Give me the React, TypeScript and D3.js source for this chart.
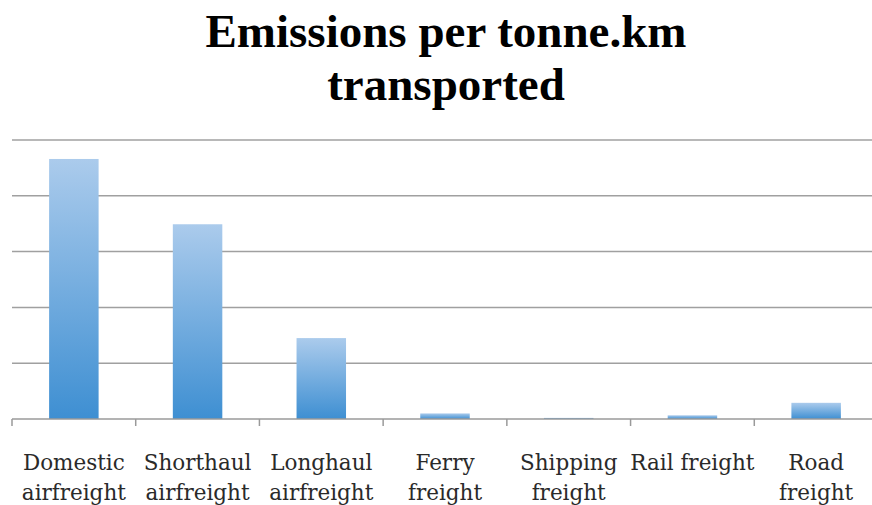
import * as d3 from "d3";
import { useLayoutEffect, useRef } from "react";

const categories = [
  "Domestic airfreight",
  "Shorthaul airfreight",
  "Longhaul airfreight",
  "Ferry freight",
  "Shipping freight",
  "Rail freight",
  "Road freight",
];
const tickLabels = [
  ["Domestic", "airfreight"],
  ["Shorthaul", "airfreight"],
  ["Longhaul", "airfreight"],
  ["Ferry", "freight"],
  ["Shipping", "freight"],
  ["Rail freight"],
  ["Road", "freight"],
];
const values = [2.33, 1.745, 0.725, 0.05, 0.01, 0.033, 0.145];
const gridTicks = [0.5, 1, 1.5, 2, 2.5];

const width = 872;
const height = 505;

export default function App() {
  const ref = useRef<SVGSVGElement>(null);

  useLayoutEffect(() => {
    const svg = d3.select(ref.current);
    svg.selectAll("*").remove();

    const x = d3.scaleBand<string>().domain(categories).range([12, 878]).paddingInner(0.6).paddingOuter(0.3);
    const y = d3.scaleLinear().domain([0, 2.5]).range([419, 140]);

    const defs = svg.append("defs");
    const grad = defs
      .append("linearGradient")
      .attr("id", "barGrad")
      .attr("x1", 0)
      .attr("y1", 0)
      .attr("x2", 0)
      .attr("y2", 1);
    grad.append("stop").attr("offset", "0%").attr("stop-color", "#abcbec");
    grad.append("stop").attr("offset", "100%").attr("stop-color", "#3e8fd2");

    svg
      .append("g")
      .selectAll("line")
      .data(gridTicks)
      .enter()
      .append("line")
      .attr("x1", 12)
      .attr("x2", width)
      .attr("y1", (d) => y(d))
      .attr("y2", (d) => y(d))
      .attr("stroke", "#a0a0a0")
      .attr("stroke-width", 1.5);

    svg
      .append("g")
      .selectAll("rect")
      .data(values)
      .enter()
      .append("rect")
      .attr("x", (_, i) => x(categories[i])!)
      .attr("width", x.bandwidth())
      .attr("y", (d) => y(d))
      .attr("height", (d) => y(0) - y(d))
      .attr("fill", "url(#barGrad)");

    // baseline + ticks
    const step = x.step();
    const axis = svg.append("g");
    axis
      .append("line")
      .attr("x1", 12)
      .attr("x2", width)
      .attr("y1", y(0))
      .attr("y2", y(0))
      .attr("stroke", "#9a9a9a")
      .attr("stroke-width", 1.5);
    axis
      .selectAll("line.tick")
      .data(d3.range(categories.length + 1))
      .enter()
      .append("line")
      .attr("class", "tick")
      .attr("x1", (i) => 12 + i * step)
      .attr("x2", (i) => 12 + i * step)
      .attr("y1", y(0))
      .attr("y2", y(0) + 7)
      .attr("stroke", "#9a9a9a")
      .attr("stroke-width", 1.5);

    const labels = axis
      .selectAll("text.lbl")
      .data(tickLabels)
      .enter()
      .append("text")
      .attr("class", "lbl")
      .attr("text-anchor", "middle")
      .attr("font-family", "DejaVu Serif")
      .attr("font-size", 21.5)
      .attr("fill", "#2a2a2a");
    labels
      .selectAll("tspan")
      .data((d, i) => d.map((t) => ({ t, i })))
      .enter()
      .append("tspan")
      .attr("x", (d) => x(categories[d.i])! + x.bandwidth() / 2)
      .attr("y", (_, j) => 470 + j * 30)
      .text((d) => d.t);

    const titleLines = ["Emissions per tonne.km", "transported"];
    svg
      .append("g")
      .selectAll("text")
      .data(titleLines)
      .enter()
      .append("text")
      .attr("text-anchor", "middle")
      .attr("font-family", "Liberation Serif")
      .attr("font-weight", "bold")
      .attr("font-size", 47)
      .attr("fill", "#000")
      .attr("x", 446)
      .attr("y", (_, i) => 47 + i * 53)
      .text((d) => d);
  }, []);

  return (
    <svg
      ref={ref}
      width={width}
      height={height}
      style={{ position: "absolute", left: 0, top: 0, background: "#fff" }}
    />
  );
}
